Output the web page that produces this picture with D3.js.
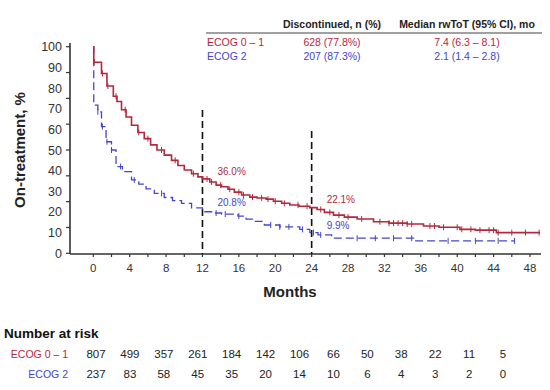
<!DOCTYPE html>
<html>
<head>
<meta charset="utf-8">
<script src="https://cdn.jsdelivr.net/npm/d3@7"></script>
<style>
  body { margin: 0; background: #fff; }
  text { font-family: "Liberation Sans", Arial, sans-serif; }
</style>
</head>
<body>
<svg id="chart" width="550" height="390"></svg>
<script>
// ---- data ----
var groups = ["ECOG 0 \u2013 1", "ECOG 2"];
var discontinued = ["628 (77.8%)", "207 (87.3%)"];
var medianToT = ["7.4 (6.3 \u2013 8.1)", "2.1 (1.4 \u2013 2.8)"];

// step points [month, % on treatment]
var ecog01 = [[0,100],[0.05,92.5],[0.9,87],[1.5,81],[2.2,76],[2.6,73.5],[3.1,69.5],[3.6,66],[4.2,62],
  [4.9,58.5],[5.6,55.5],[6.3,52.5],[7.0,50],[7.8,47.5],[8.6,45],[9.3,42.5],[10.0,40.3],[10.8,38.5],
  [11.5,37],[12.0,36.0],[12.8,34.5],[13.5,33],[14.1,32.2],[14.8,31],[15.5,29.6],[16.3,28.2],[17.2,27.2],
  [18.0,26.8],[19.0,26.2],[19.8,25.2],[20.7,24.2],[21.6,23.4],[22.6,22.8],[23.8,22.1],[24.6,21.2],
  [25.4,19.8],[26.4,18.5],[27.6,17.5],[29.0,16.6],[30.8,15.3],[32.5,14.6],[34.5,14.2],[36.3,13.2],
  [38.0,12.6],[40.3,11.6],[42.0,11.2],[44.3,10.0],[49.1,10.0]];
var ecog2 = [[0,100],[0.05,71.7],[0.5,68.5],[0.9,61.3],[1.4,54],[2.0,50],[2.5,42],[3.2,39.5],[4.2,35.5],
  [5.0,33.5],[5.8,31.2],[6.7,29],[7.8,27],[8.7,25.5],[9.7,24.2],[10.8,22],[12.0,20.1],[13.0,19.5],
  [14.1,19],[15.9,18],[16.8,16.5],[17.5,15.5],[18.8,13.7],[20.5,12.8],[22.7,11.6],[23.8,10],[24.7,8.9],
  [26.2,7.3],[35.2,6],[46.3,6]];

// censor times (months)
var cens01 = [0.1,1.0,1.6,2.5,3.5,5.0,6.0,7.5,9.0,11.0,12.5,13.0,14.0,15.0,16.0,16.5,17.5,18.5,19.2,20.0,
  21.0,22.5,23.5,25.0,26.0,27.0,28.0,29.5,31.5,32.5,33.0,33.5,34.0,34.5,35.0,37.0,37.5,38.5,40.0,40.5,
  41.5,42.5,43.5,44.0,44.5,46.0,47.5,49.0];
var cens2 = [0.5,1.0,1.5,2.0,3.0,4.5,7.5,13.5,14.5,16.0,19.5,20.5,21.5,23.0,24.2,25.0,29.0,31.0,33.0,
  35.0,39.0,42.0,44.5,46.3];

// landmark labels
var landmarkMonths = [12, 24];
var landmark01 = ["36.0%", "22.1%"];
var landmark2 = ["20.8%", "9.9%"];

// number at risk
var riskMonths = [0,4,8,12,16,20,24,28,32,36,40,44,48];
var risk01 = [807,499,357,261,184,142,106,66,50,38,22,11,5];
var risk2 = [237,83,58,45,35,20,14,10,6,4,3,2,0];

var xTicks = [0,4,8,12,16,20,24,28,32,36,40,44,48];
var yLabels = [0,10,20,30,40,50,60,70,80,90,100];
var yTickMarks = [0,12.5,25,37.5,50,62.5,75,87.5,100];

var red = "#b3283c", blue = "#4545cc", axisCol = "#333";

var svg = d3.select("#chart");

var x = d3.scaleLinear().domain([0, 48]).range([93.3, 530]);
var y = d3.scaleLinear().domain([0, 100]).range([253.3, 46.7]);
var xr = d3.scaleLinear().domain([0, 48]).range([96, 503]);

// axes lines
svg.append("line").attr("x1", 70).attr("x2", 70).attr("y1", 43).attr("y2", 254)
  .attr("stroke", axisCol).attr("stroke-width", 1.6);
svg.append("line").attr("x1", 70).attr("x2", 541).attr("y1", 254).attr("y2", 254)
  .attr("stroke", axisCol).attr("stroke-width", 1.6);

// y ticks + labels
svg.append("g").selectAll("line").data(yTickMarks).enter().append("line")
  .attr("x1", 66).attr("x2", 70)
  .attr("y1", function(d) { return y(d); }).attr("y2", function(d) { return y(d); })
  .attr("stroke", axisCol).attr("stroke-width", 1.2);
svg.append("g").selectAll("text").data(yLabels).enter().append("text")
  .attr("x", 62).attr("y", function(d) { return y(d) + 4.5; })
  .attr("text-anchor", "end").attr("font-size", 12.5).attr("fill", axisCol)
  .text(function(d) { return d; });

// x ticks (every 2 months) + labels
svg.append("g").selectAll("line").data(d3.range(0, 50, 2)).enter().append("line")
  .attr("x1", function(d) { return x(d); }).attr("x2", function(d) { return x(d); })
  .attr("y1", 254).attr("y2", 257)
  .attr("stroke", axisCol).attr("stroke-width", 1.2);
svg.append("g").selectAll("text").data(xTicks).enter().append("text")
  .attr("x", function(d) { return x(d); }).attr("y", 272)
  .attr("text-anchor", "middle").attr("font-size", 11.5).attr("fill", axisCol)
  .text(function(d) { return d; });

svg.append("text").attr("x", 290).attr("y", 297).attr("text-anchor", "middle")
  .attr("font-size", 15).attr("font-weight", "bold").attr("fill", "#222").text("Months");
svg.append("text").attr("transform", "translate(25,150) rotate(-90)").attr("text-anchor", "middle")
  .attr("font-size", 15).attr("font-weight", "bold").attr("fill", "#222").text("On-treatment, %");

// landmark dashed lines
svg.append("line").attr("x1", x(12)).attr("x2", x(12)).attr("y1", 110).attr("y2", 254)
  .attr("stroke", "#111").attr("stroke-width", 1.6).attr("stroke-dasharray", "7,4");
svg.append("line").attr("x1", x(24)).attr("x2", x(24)).attr("y1", 131).attr("y2", 254)
  .attr("stroke", "#111").attr("stroke-width", 1.6).attr("stroke-dasharray", "7,4");

// curves
var line = d3.line()
  .x(function(d) { return x(d[0]); })
  .y(function(d) { return y(d[1]); })
  .curve(d3.curveStepAfter);

svg.append("path").datum(ecog2).attr("d", line).attr("fill", "none")
  .attr("stroke", blue).attr("stroke-width", 1.3).attr("stroke-dasharray", "8,4");
svg.append("path").datum(ecog01).attr("d", line).attr("fill", "none")
  .attr("stroke", red).attr("stroke-width", 1.6);

function valueAt(curve, t) {
  var v = curve[0][1];
  for (var i = 0; i < curve.length; i++) {
    if (curve[i][0] <= t) v = curve[i][1];
  }
  return v;
}

function drawCensor(curve, times, col) {
  svg.append("g").selectAll("line").data(times).enter().append("line")
    .attr("x1", function(d) { return x(d); }).attr("x2", function(d) { return x(d); })
    .attr("y1", function(d) { return y(valueAt(curve, d)) - 3; })
    .attr("y2", function(d) { return y(valueAt(curve, d)) + 3; })
    .attr("stroke", col).attr("stroke-width", 1);
}
drawCensor(ecog2, cens2, blue);
drawCensor(ecog01, cens01, red);

// landmark percentages
svg.append("g").selectAll("text").data(landmarkMonths).enter().append("text")
  .attr("x", function(d) { return x(d) + 15; })
  .attr("y", function(d, i) { return i == 0 ? 175 : 203; })
  .attr("font-size", 10).attr("fill", red)
  .text(function(d, i) { return landmark01[i]; });
svg.append("g").selectAll("text").data(landmarkMonths).enter().append("text")
  .attr("x", function(d) { return x(d) + 15; })
  .attr("y", function(d, i) { return i == 0 ? 206 : 229; })
  .attr("font-size", 10).attr("fill", blue)
  .text(function(d, i) { return landmark2[i]; });

// header table
svg.append("line").attr("x1", 206).attr("x2", 542).attr("y1", 33).attr("y2", 33)
  .attr("stroke", "#444").attr("stroke-width", 1.2);
svg.append("text").attr("x", 332).attr("y", 28).attr("text-anchor", "middle")
  .attr("font-size", 10.5).attr("font-weight", "bold").attr("fill", "#222").text("Discontinued, n (%)");
svg.append("text").attr("x", 467).attr("y", 28).attr("text-anchor", "middle")
  .attr("font-size", 10.5).attr("font-weight", "bold").attr("fill", "#222").text("Median rwToT (95% CI), mo");

var cols = [red, blue];
groups.forEach(function(g, i) {
  var yy = 46 + i * 13.5;
  svg.append("text").attr("x", 207).attr("y", yy).attr("font-size", 10.5).attr("fill", cols[i]).text(g);
  svg.append("text").attr("x", 332).attr("y", yy).attr("text-anchor", "middle")
    .attr("font-size", 10.5).attr("fill", cols[i]).text(discontinued[i]);
  svg.append("text").attr("x", 467).attr("y", yy).attr("text-anchor", "middle")
    .attr("font-size", 10.5).attr("fill", cols[i]).text(medianToT[i]);
});

// number at risk
svg.append("text").attr("x", 4).attr("y", 338).attr("font-size", 13.5).attr("font-weight", "bold")
  .attr("fill", "#111").text("Number at risk");
[risk01, risk2].forEach(function(row, i) {
  var yy = 358 + i * 20;
  svg.append("text").attr("x", 68).attr("y", yy).attr("text-anchor", "end")
    .attr("font-size", 10.5).attr("fill", cols[i]).text(groups[i]);
  svg.append("g").selectAll("text").data(row).enter().append("text")
    .attr("x", function(d, j) { return xr(riskMonths[j]); }).attr("y", yy)
    .attr("text-anchor", "middle").attr("font-size", 11.5).attr("fill", "#222")
    .text(function(d) { return d; });
});
</script>
</body>
</html>
